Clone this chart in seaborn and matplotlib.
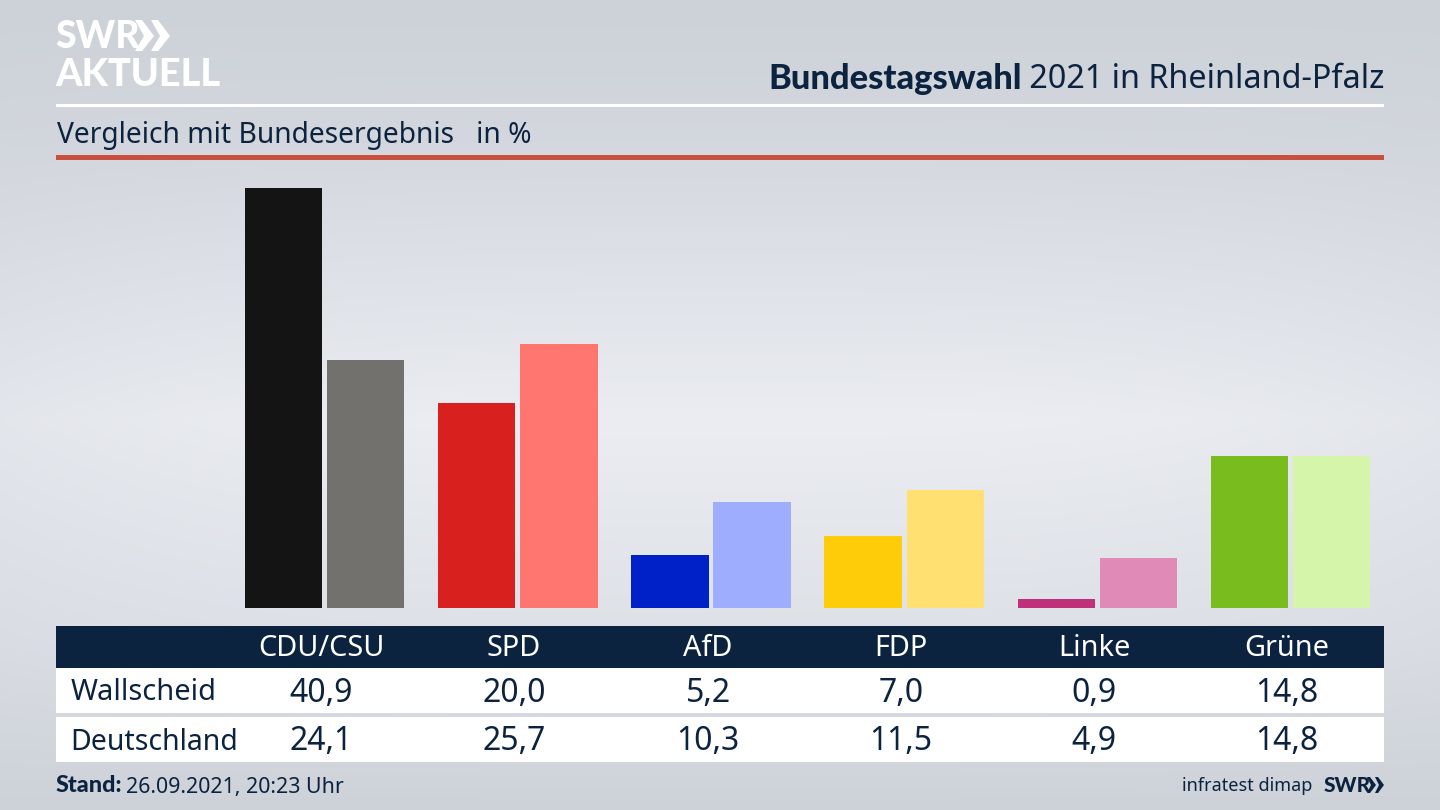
import numpy as np
import pandas as pd
import seaborn as sns
import matplotlib.pyplot as plt
from matplotlib.patches import Rectangle, Polygon

parties = ['CDU/CSU', 'SPD', 'AfD', 'FDP', 'Linke', 'Grüne']
wallscheid = [40.9, 20.0, 5.2, 7.0, 0.9, 14.8]
deutschland = [24.1, 25.7, 10.3, 11.5, 4.9, 14.8]
colors_wallscheid = ['#141414', '#d8201e', '#0020c8', '#ffcc0a', '#c0307a', '#78bc1e']
colors_deutschland = ['#73716e', '#ff7570', '#9fadff', '#ffe070', '#e08ab8', '#d5f5aa']

navy = '#0c2340'
font = 'Noto Sans'
bold_font = 'Lato'
W, H = 1440, 810


def fmt(v):
    return f'{v:.1f}'.replace('.', ',')


sns.set_theme(style='white')
plt.rcParams['font.family'] = [font, 'DejaVu Sans']

df = pd.DataFrame({
    'partei': parties * 2,
    'wert': wallscheid + deutschland,
    'gebiet': ['Wallscheid'] * 6 + ['Deutschland'] * 6,
})

fig = plt.figure(figsize=(14.4, 8.1), dpi=100)

# background gradient, lightest around the middle of the picture
bg = fig.add_axes([0, 0, 1, 1], zorder=0)
rows = np.interp(np.arange(H), [0, 130, 420, 640, 810], [0.0, 0.2, 1.0, 0.55, 0.0])
cols = 1 - 0.25 * np.abs(np.linspace(-1, 1, W)) ** 3
shade = rows[:, None] * cols[None, :]
top, light = np.array([205, 209, 216]), np.array([235, 237, 242])
img = top + (light - top) * shade[..., None]
bg.imshow(img.astype(np.uint8), extent=[0, W, H, 0], aspect='auto')
bg.set_xlim(0, W)
bg.set_ylim(H, 0)
bg.axis('off')

# bars
ax = fig.add_axes([228.3 / W, 1 - 608 / H, (1386.8 - 228.3) / W, (608 - 170) / H], zorder=1)
sns.barplot(data=df, x='partei', y='wert', hue='gebiet', order=parties,
            width=0.85, gap=0.06, legend=False, linewidth=0, ax=ax)
for cont, cols_ in zip(ax.containers, [colors_wallscheid, colors_deutschland]):
    for bar, c in zip(cont, cols_):
        bar.set_facecolor(c)
        bar.set_edgecolor('none')
ax.set_xlim(-0.5, 5.5)
ax.set_ylim(0, (608 - 170) / 10.27)
ax.axis('off')

# header, table and footer drawn in pixel coordinates
ov = fig.add_axes([0, 0, 1, 1], zorder=2)
ov.set_xlim(0, W)
ov.set_ylim(H, 0)
ov.axis('off')
ov.patch.set_alpha(0)


def box(x0, y0, x1, y1, c):
    ov.add_patch(Rectangle((x0, y0), x1 - x0, y1 - y0, fc=c, ec='none'))


box(56, 104, 1384, 107, 'white')
box(56, 155, 1384, 160, '#c9503f')
box(56, 626, 1384, 668, navy)
box(56, 668, 1384, 713, 'white')
box(56, 717, 1384, 762, 'white')

# logo
ov.text(55, 37, 'SWR', color='white', fontsize=27, family=bold_font, fontweight='black', va='center', ha='left')
ov.text(55, 75, 'AKTUELL', color='white', fontsize=27.3, family=bold_font, fontweight='black', va='center', ha='left')
for x0 in (135, 151):
    ov.add_patch(Polygon([(x0, 20), (x0 + 7, 20), (x0 + 19, 36), (x0 + 7, 51), (x0, 51),
                          (x0 + 9, 36)], fc='white', ec='none'))

# titles
t = ov.text(1384, 80, ' 2021 in Rheinland-Pfalz', color=navy, fontsize=23.35, ha='right', va='center')
fig.canvas.draw()
bb = t.get_window_extent().transformed(ov.transData.inverted())
ov.text(bb.x0 + 1, 79, 'Bundestagswahl', color=navy, fontsize=24.8, family=bold_font, fontweight='black',
        ha='right', va='center')
ov.text(57, 135, 'Vergleich mit Bundesergebnis   in %', color=navy, fontsize=20.3, ha='left', va='center')

# table
centers = [321, 514, 708, 901, 1094, 1287]
for x, p, a, b in zip(centers, parties, wallscheid, deutschland):
    ov.text(x, 649, p, color='white', fontsize=20.8, ha='center', va='center')
    ov.text(x, 693, fmt(a), color=navy, fontsize=23, ha='center', va='center')
    ov.text(x, 742, fmt(b), color=navy, fontsize=23, ha='center', va='center')
ov.text(71, 693, 'Wallscheid', color=navy, fontsize=20.9, ha='left', va='center')
ov.text(70, 742, 'Deutschland', color=navy, fontsize=20.5, ha='left', va='center')

# footer
ov.text(56, 786, 'Stand:', color=navy, fontsize=16.8, family=bold_font, fontweight='black', ha='left', va='center')
ov.text(126, 787, '26.09.2021, 20:23 Uhr', color=navy, fontsize=15.4, ha='left', va='center')
ov.text(1312, 786, 'infratest dimap', color=navy, fontsize=13, ha='right', va='center')
ov.text(1324, 785, 'SWR', color=navy, fontsize=15, family=bold_font, fontweight='black', ha='left', va='center')
for x0 in (1367, 1375):
    ov.add_patch(Polygon([(x0, 777), (x0 + 3, 777), (x0 + 9, 785), (x0 + 3, 793), (x0, 793),
                          (x0 + 4, 785)], fc=navy, ec='none'))

fig.savefig('out.png', dpi=100)
